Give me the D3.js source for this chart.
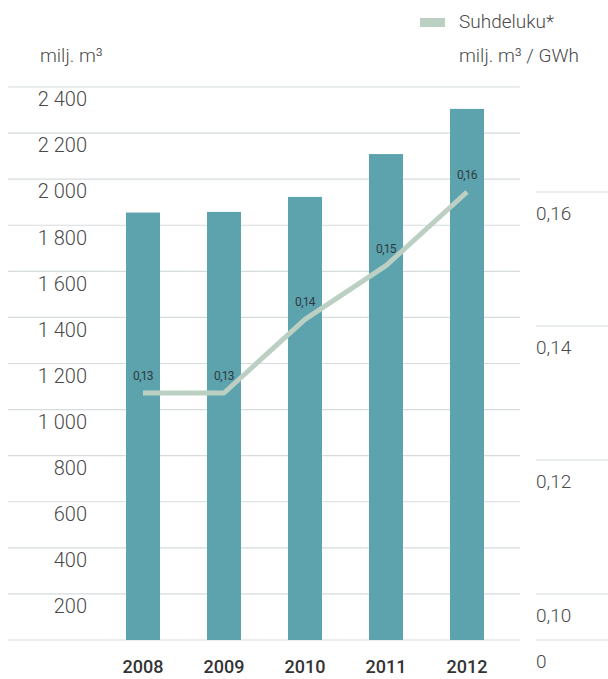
<!DOCTYPE html>
<html>
<head>
<meta charset="utf-8">
<script src="https://cdn.jsdelivr.net/npm/d3@7"></script>
<style>
  body { margin: 0; background: #fff; }
  #chart { width: 608px; height: 679px; }
  text { font-family: Roboto, "Open Sans", sans-serif; }
</style>
</head>
<body>
<div id="chart"></div>
<script>
// data
var years = ["2008", "2009", "2010", "2011", "2012"];
var volume = [1855, 1858, 1923, 2109, 2305];        // milj. m3
var ratio = [0.130, 0.130, 0.141, 0.149, 0.160];     // milj. m3 / GWh
var leftTicks = [0, 200, 400, 600, 800, 1000, 1200, 1400, 1600, 1800, 2000, 2200, 2400];
var rightTicks = [0.10, 0.12, 0.14, 0.16];

var fi = d3.formatLocale({decimal: ",", thousands: "\u00a0", grouping: [3], currency: ["", "€"]});
var fmtLeft = fi.format(",d");
var fmtRight = fi.format(".2f");

var svg = d3.select("#chart").append("svg")
  .attr("width", 608)
  .attr("height", 679);

// scales
var x = d3.scalePoint().domain(years).range([143, 467]);
var yL = d3.scaleLinear().domain([0, 2400]).range([640, 87]);
var yR = d3.scaleLinear().domain([0.10, 0.16]).range([594, 192]);
var barW = 34;

// left grid + labels
var lg = svg.append("g").attr("id", "leftGrid");
lg.selectAll("line")
  .data(leftTicks)
  .join("line")
  .attr("x1", 8).attr("x2", 520)
  .attr("y1", d => yL(d)).attr("y2", d => yL(d))
  .attr("stroke", "#d6dbde")
  .attr("stroke-width", 1.2);
lg.selectAll("text")
  .data(leftTicks.filter(d => d > 0))
  .join("text")
  .attr("x", 87)
  .attr("y", d => yL(d) + 14)
  .attr("text-anchor", "end")
  .attr("dominant-baseline", "middle")
  .attr("font-size", "20px")
  .attr("font-weight", 300)
  .attr("fill", "#4a4a4a")
  .text(d => fmtLeft(d));

// right grid + labels
var rg = svg.append("g").attr("id", "rightGrid");
rg.selectAll("line")
  .data(rightTicks)
  .join("line")
  .attr("x1", 536).attr("x2", 608)
  .attr("y1", d => yR(d)).attr("y2", d => yR(d))
  .attr("stroke", "#d6dbde")
  .attr("stroke-width", 1.2);
rg.selectAll("text")
  .data(rightTicks)
  .join("text")
  .attr("x", 536)
  .attr("y", d => yR(d) + 23)
  .attr("dominant-baseline", "middle")
  .attr("font-size", "19px")
  .attr("font-weight", 300)
  .attr("fill", "#4a4a4a")
  .text(d => fmtRight(d));
// broken axis zero
rg.append("line")
  .attr("x1", 536).attr("x2", 608)
  .attr("y1", yL(0)).attr("y2", yL(0))
  .attr("stroke", "#d6dbde")
  .attr("stroke-width", 1.2);
rg.append("text")
  .attr("x", 536)
  .attr("y", yL(0) + 23)
  .attr("dominant-baseline", "middle")
  .attr("font-size", "19px")
  .attr("font-weight", 300)
  .attr("fill", "#4a4a4a")
  .text("0");

// bars
svg.append("g").selectAll("rect")
  .data(volume)
  .join("rect")
  .attr("x", (d, i) => x(years[i]) - barW / 2)
  .attr("y", d => yL(d))
  .attr("width", barW)
  .attr("height", d => yL(0) - yL(d))
  .attr("fill", "#5ca3ae");

// year labels
svg.append("g").selectAll("text")
  .data(years)
  .join("text")
  .attr("x", d => x(d))
  .attr("y", 668)
  .attr("text-anchor", "middle")
  .attr("dominant-baseline", "middle")
  .attr("font-size", "18px")
  .attr("font-weight", 500)
  .attr("fill", "#333")
  .text(d => d);

// ratio line
var line = d3.line()
  .x((d, i) => x(years[i]))
  .y(d => yR(d));
svg.append("path")
  .datum(ratio)
  .attr("d", line)
  .attr("fill", "none")
  .attr("stroke", "#bccfc3")
  .attr("stroke-width", 5)
  .attr("stroke-linejoin", "round");

svg.append("g").selectAll("text")
  .data(ratio)
  .join("text")
  .attr("x", (d, i) => x(years[i]))
  .attr("y", d => yR(d) - 16)
  .attr("text-anchor", "middle")
  .attr("dominant-baseline", "middle")
  .attr("font-size", "12px")
  .attr("letter-spacing", "-0.7px")
  .attr("fill", "#2f3b40")
  .text(d => fmtRight(d));

// axis titles / legend
svg.append("text")
  .attr("x", 40).attr("y", 57)
  .attr("dominant-baseline", "middle")
  .attr("font-size", "19px")
  .attr("font-weight", 300)
  .attr("fill", "#4a4a4a")
  .text("milj. m³");

svg.append("rect")
  .attr("x", 420).attr("y", 18)
  .attr("width", 25).attr("height", 9)
  .attr("fill", "#bccfc3");
svg.append("text")
  .attr("x", 459).attr("y", 23)
  .attr("dominant-baseline", "middle")
  .attr("font-size", "19px")
  .attr("font-weight", 300)
  .attr("fill", "#4a4a4a")
  .text("Suhdeluku*");
svg.append("text")
  .attr("x", 459).attr("y", 57)
  .attr("dominant-baseline", "middle")
  .attr("font-size", "19px")
  .attr("font-weight", 300)
  .attr("fill", "#4a4a4a")
  .text("milj. m³ / GWh");
</script>
</body>
</html>
